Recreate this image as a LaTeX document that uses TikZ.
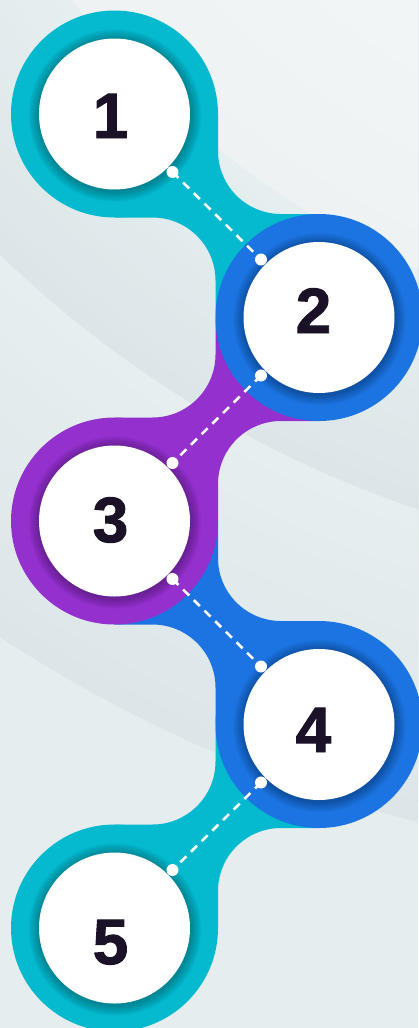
\documentclass[tikz,border=0pt]{standalone}
\usepackage{fontspec}
\newfontfamily\numfont{Liberation Sans}[BoldFeatures={FakeBold=1.5}]
\usetikzlibrary{calc}

\definecolor{tealring}{HTML}{05B9CE}
\definecolor{bluering}{HTML}{1B74E2}
\definecolor{purplering}{HTML}{9430CE}
\definecolor{numink}{HTML}{1C1228}
\definecolor{bgbase}{HTML}{E5EDEF}
\definecolor{bgdark}{HTML}{DCE6E8}
\definecolor{bglight}{HTML}{E7EFF0}
\definecolor{bgpale}{HTML}{EEF2F3}
\definecolor{bgpaler}{HTML}{F5F7F8}

\tikzset{
  ring/.style={circle, minimum size=207pt, inner sep=0pt, outer sep=0pt},
  disc/.style={circle, fill=white, minimum size=151pt, inner sep=0pt, outer sep=0pt},
  num/.style={inner sep=0pt, text=numink, anchor=base,
    font={\numfont\bfseries\fontsize{64}{64}\selectfont}},
  guide/.style={white, line width=2.6pt, dash pattern=on 8.5pt off 6.5pt},
  knob/.style={fill=white},
  % bridge from an upper-left ring down to the lower-right ring
  linkdown/.pic={
    \fill[pic actions] (0,0) -- (103.5,0) -- (103.5,37)
      arc[start angle=180, end angle=90, radius=63] -- (204.5,100)
      -- (204.5,203.5) -- (101,203.5) -- (101,166.5)
      arc[start angle=0, end angle=-90, radius=63] -- (0,103.5) -- cycle;
  },
  % bridge from a lower-left ring up to the upper-right ring
  linkup/.pic={
    \fill[pic actions] (0,0) -- (103.5,0) -- (103.5,-37)
      arc[start angle=180, end angle=270, radius=63] -- (204.5,-100)
      -- (204.5,-203.5) -- (101,-203.5) -- (101,-166.5)
      arc[start angle=0, end angle=90, radius=63] -- (0,-103.5) -- cycle;
  },
}

\begin{document}
\begin{tikzpicture}[x=1pt, y=-1pt]
\useasboundingbox (0,0) rectangle (418,1028);

% ---- background: soft concentric bands ----
\coordinate (bgc) at (772,-543);
\begin{scope}
  \clip (0,0) rectangle (418,1028);
  \fill[bgbase] (0,0) rectangle (418,1028);
  \foreach \i in {0,...,15} {
    \pgfmathsetmacro\rr{1410-\i*20}
    \pgfmathtruncatemacro\pp{100-\i*100/15}
    \fill[bgdark!\pp!bglight] (bgc) circle (\rr);
  }
  \foreach \i in {0,...,14} {
    \pgfmathsetmacro\rr{1110-\i*16}
    \pgfmathtruncatemacro\pp{100-\i*100/14}
    \fill[bgdark!\pp!bglight] (bgc) circle (\rr);
  }
  \foreach \i in {0,...,10} {
    \pgfmathsetmacro\rr{886-\i*35}
    \pgfmathtruncatemacro\pp{100-\i*10}
    \fill[bgpale!\pp!bgpaler] (bgc) circle (\rr);
  }
\end{scope}

% ---- ring centres ----
\coordinate (c1) at (114.5,114);
\coordinate (c2) at (319,317.5);
\coordinate (c3) at (114.5,521);
\coordinate (c4) at (319,724.5);
\coordinate (c5) at (114.5,928);

% ---- bridges between the rings ----
\pic[fill=tealring]   at (c1) {linkdown};
\pic[fill=purplering] at (c3) {linkup};
\pic[fill=bluering]   at (c3) {linkdown};
\pic[fill=tealring]   at (c5) {linkup};

% ---- coloured rings ----
\node[ring, fill=tealring]   (r1) at (c1) {};
\node[ring, fill=purplering] (r3) at (c3) {};
\node[ring, fill=tealring]   (r5) at (c5) {};
\node[ring, fill=bluering]   (r2) at (c2) {};
\node[ring, fill=bluering]   (r4) at (c4) {};

% ---- soft shadow of the white discs on the rings ----
\foreach \n in {1,...,5} {
  \foreach \k in {1,...,12} {
    \pgfmathsetmacro\sr{75.5+\k*0.9}
    \fill[black, opacity=0.022] ($(c\n)+(0.5,1.5)$) circle (\sr);
  }
}

% ---- white discs and numbers ----
\node[disc] (d1) at (c1) {};
\node[disc] (d2) at (c2) {};
\node[disc] (d3) at (c3) {};
\node[disc] (d4) at (c4) {};
\node[disc] (d5) at (c5) {};

\node[num] (t1) at (110.5,138) {1};
\node[num] (t2) at (313.5,333) {2};
\node[num] (t3) at (110.5,542) {3};
\node[num] (t4) at (313.5,752) {4};
\node[num] (t5) at (110.5,964) {5};

% ---- dashed guides with end knobs ----
\coordinate (a12) at ($(d1.center)+(45:82)$);
\coordinate (b12) at ($(d2.center)+(225:82)$);
\coordinate (a23) at ($(d2.center)+(135:82)$);
\coordinate (b23) at ($(d3.center)+(-45:82)$);
\coordinate (a34) at ($(d3.center)+(45:82)$);
\coordinate (b34) at ($(d4.center)+(225:82)$);
\coordinate (a45) at ($(d4.center)+(135:82)$);
\coordinate (b45) at ($(d5.center)+(-45:82)$);

\draw[guide] (a12) -- (b12);
\draw[guide] (a23) -- (b23);
\draw[guide] (a34) -- (b34);
\draw[guide] (a45) -- (b45);

\foreach \p in {a12,b12,a23,b23,a34,b34,a45,b45} {
  \fill[knob] (\p) circle (6);
}
\end{tikzpicture}
\end{document}
